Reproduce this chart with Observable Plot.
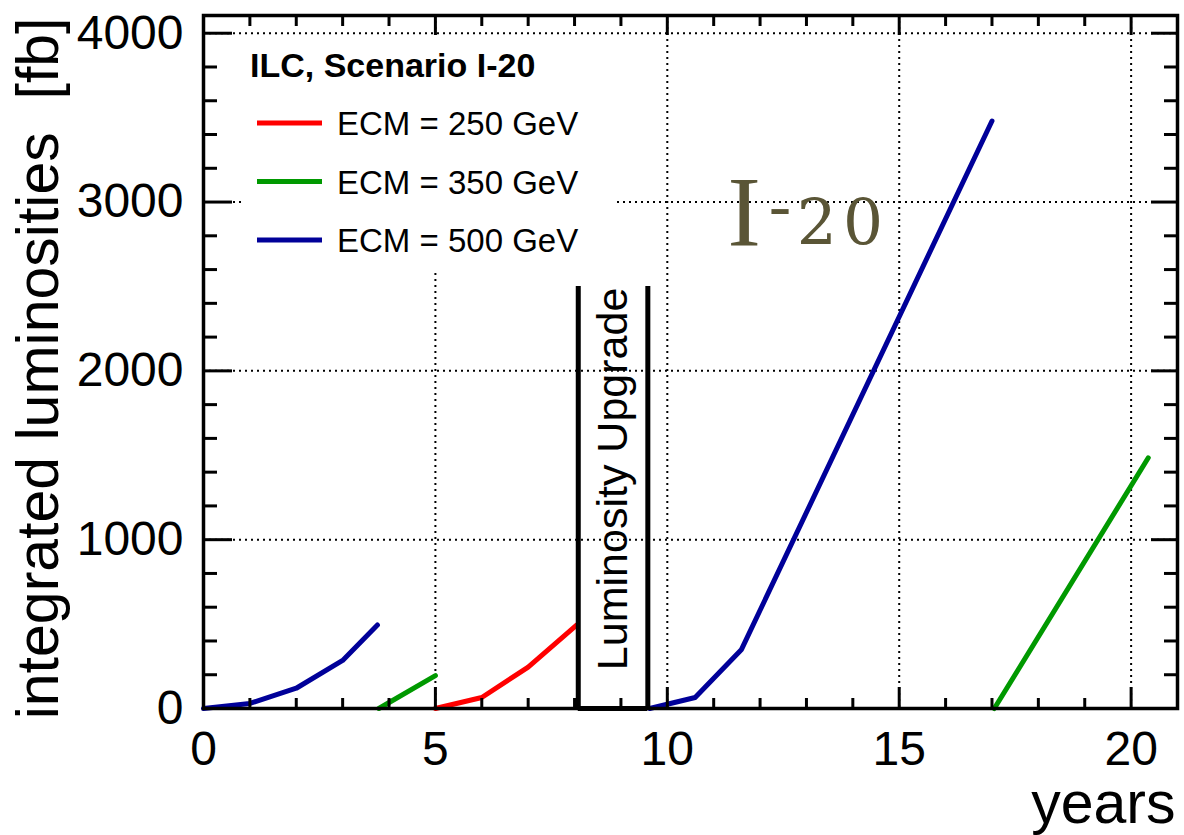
<!DOCTYPE html>
<html>
<head>
<meta charset="utf-8">
<script src="https://cdn.jsdelivr.net/npm/d3@7"></script>
<script src="https://cdn.jsdelivr.net/npm/@observablehq/plot@0.6"></script>
<style>
html, body { margin: 0; padding: 0; background: #fff; }
#chart svg { display: block; }
</style>
</head>
<body>
<div id="chart"></div>
<script>
// ---- data ----
const blueYearsA  = [0, 1, 2, 3, 3.75];
const blueLumiA   = [0, 30, 120, 285, 495];
const blueYearsB  = [9.62, 10.6, 11.6, 17.0];
const blueLumiB   = [0, 65, 350, 3480];
const greenYearsA = [3.78, 5.0];
const greenLumiA  = [0, 195];
const greenYearsB = [17.05, 20.37];
const greenLumiB  = [0, 1485];
const redYears    = [5.0, 6.0, 7.0, 8.05];
const redLumi     = [0, 65, 245, 495];

const legendTitle  = "ILC, Scenario I-20";
const legendLabels = ["ECM = 250 GeV", "ECM = 350 GeV", "ECM = 500 GeV"];
const legendColors = ["#ff0000", "#009900", "#000099"];

const upgradeX     = [8.08, 9.58];
const upgradeTop   = 2500;
const upgradeLabel = "Luminosity Upgrade";
const upgradeTextAt = {x: 8.83, y: 1360};

const scenarioLabel = ["I", "-", "20"];
const scenarioAt = {x: 11.31, y: 2744};

const xMajorTicks = [0, 5, 10, 15, 20];
const xMinorTicks = [1, 2, 3, 4, 6, 7, 8, 9, 11, 12, 13, 14, 16, 17, 18, 19];
const yMajorTicks = [0, 1000, 2000, 3000, 4000];
const yMinorTicks = [200, 400, 600, 800, 1200, 1400, 1600, 1800, 2200, 2400, 2600, 2800, 3200, 3400, 3600, 3800];
const xGridValues = [5, 10, 15, 20];
const yGridValues = [1000, 2000, 3000, 4000];

const xLabel = "years";
const yLabel = "integrated luminosities \u00a0[fb]";

const toRows = (xs, ys) => xs.map((x, i) => ({year: x, lumi: ys[i]}));

const lineW = 5;
const grid = {stroke: "#000", strokeOpacity: 1, strokeWidth: 2, strokeDasharray: "2,4"};
const tk = {strokeWidth: 3, label: null};
const blank = () => "";

const chart = Plot.plot({
  width: 1184,
  height: 835,
  marginLeft: 203,
  marginRight: 7,
  marginTop: 15,
  marginBottom: 127,
  style: {fontFamily: "'Liberation Sans', Arial, Helvetica, sans-serif", background: "#fff", color: "#000", overflow: "visible"},
  x: {domain: [0, 21], axis: null, label: null},
  y: {domain: [0, 4105], axis: null, label: null},
  marks: [
    Plot.gridX(xGridValues, grid),
    Plot.gridY(yGridValues, grid),
    Plot.line(toRows(blueYearsA, blueLumiA), {x: "year", y: "lumi", stroke: legendColors[2], strokeWidth: lineW}),
    Plot.line(toRows(blueYearsB, blueLumiB), {x: "year", y: "lumi", stroke: legendColors[2], strokeWidth: lineW}),
    Plot.line(toRows(greenYearsA, greenLumiA), {x: "year", y: "lumi", stroke: legendColors[1], strokeWidth: lineW}),
    Plot.line(toRows(greenYearsB, greenLumiB), {x: "year", y: "lumi", stroke: legendColors[1], strokeWidth: lineW}),
    Plot.line(toRows(redYears, redLumi), {x: "year", y: "lumi", stroke: legendColors[0], strokeWidth: lineW}),
    // luminosity upgrade bracket
    Plot.ruleX(upgradeX, {y1: 0, y2: upgradeTop, stroke: "#000", strokeWidth: 5}),
    Plot.ruleY([0], {x1: upgradeX[0], x2: upgradeX[1], stroke: "#000", strokeWidth: 5}),
    Plot.text([upgradeLabel], {x: upgradeTextAt.x, y: upgradeTextAt.y, text: d => d, rotate: -90, fontSize: 43, fill: "#000"}),
    // frame and ticks
    Plot.frame({stroke: "#000", strokeWidth: 3.5}),
    Plot.axisX(xMajorTicks, {anchor: "bottom", tickSize: -21, tickPadding: 43, fontSize: 48, tickFormat: "d", ...tk}),
    Plot.axisX(xMinorTicks, {anchor: "bottom", tickSize: -10, tickFormat: blank, ...tk}),
    Plot.axisX(xMajorTicks, {anchor: "top", tickSize: -19, tickFormat: blank, ...tk}),
    Plot.axisX(xMinorTicks, {anchor: "top", tickSize: -10, tickFormat: blank, ...tk}),
    Plot.axisY(yMajorTicks, {anchor: "left", tickSize: -29, tickPadding: 49, fontSize: 48, tickFormat: "d", ...tk}),
    Plot.axisY(yMinorTicks, {anchor: "left", tickSize: -14, tickFormat: blank, ...tk}),
    Plot.axisY(yMajorTicks, {anchor: "right", tickSize: -27, tickFormat: blank, ...tk}),
    Plot.axisY(yMinorTicks, {anchor: "right", tickSize: -14, tickFormat: blank, ...tk}),
    // axis titles
    Plot.text([xLabel], {text: d => d, frameAnchor: "bottom-right", textAnchor: "end", lineAnchor: "bottom", dx: -2, dy: 114, fontSize: 59, fill: "#000"}),
    Plot.text([yLabel], {text: d => d, frameAnchor: "top-left", rotate: -90, textAnchor: "end", lineAnchor: "bottom", dx: -146, dy: 2, fontSize: 59, fill: "#000"})
  ]
});

document.getElementById("chart").appendChild(chart);

// ---- legend and scenario annotation ----
const svg = d3.select(chart);
const sx = chart.scale("x"), sy = chart.scale("y");

const sc = svg.append("text")
  .attr("x", sx.apply(scenarioAt.x))
  .attr("y", sy.apply(scenarioAt.y))
  .attr("text-anchor", "start")
  .attr("font-family", "'Liberation Serif', 'DejaVu Serif', serif")
  .attr("fill", "#5a5536");
sc.append("tspan").attr("font-size", 100).text(scenarioLabel[0]);
sc.append("tspan").attr("font-size", 66).attr("dx", 8).attr("dy", -18).text(scenarioLabel[1]);
sc.append("tspan").attr("font-size", 63).attr("font-family", "'DejaVu Serif', 'Liberation Serif', serif")
  .attr("dx", 6).attr("dy", 18).attr("letter-spacing", 6).text(scenarioLabel[2]);

const lg = svg.append("g")
  .attr("font-family", "'Liberation Sans', Arial, Helvetica, sans-serif")
  .attr("text-anchor", "start");
lg.append("rect").attr("x", 242).attr("y", 37).attr("width", 373).attr("height", 233).attr("fill", "#fff");
lg.append("text").attr("x", 250).attr("y", 77).attr("font-weight", "bold").attr("font-size", 34).attr("fill", "#000").text(legendTitle);
legendLabels.forEach((lab, i) => {
  const yy = 123 + i * 58.5;
  lg.append("line").attr("x1", 257).attr("x2", 322).attr("y1", yy).attr("y2", yy)
    .attr("stroke", legendColors[i]).attr("stroke-width", 5);
  lg.append("text").attr("x", 337).attr("y", yy + 12).attr("font-size", 33).attr("fill", "#000").text(lab);
});
</script>
</body>
</html>
